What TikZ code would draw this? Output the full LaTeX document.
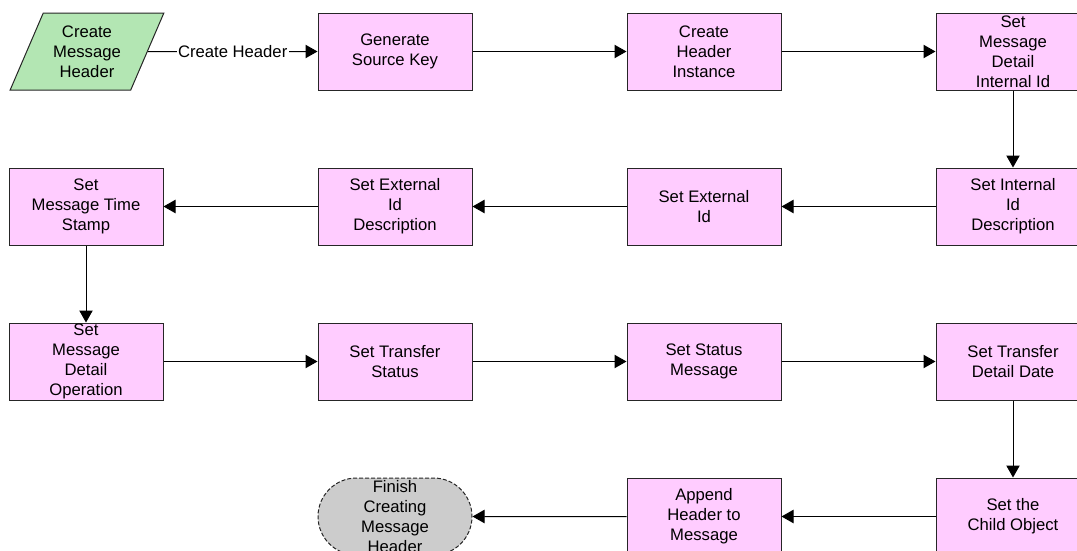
\documentclass[tikz,border=0pt]{standalone}
\usepackage{fontspec}
\setmainfont{Liberation Sans}
\usepackage{tikz}
\usetikzlibrary{positioning,shapes.geometric,shapes.misc,arrows.meta}
\definecolor{taskpink}{HTML}{FFCCFF}
\definecolor{startgreen}{HTML}{B3E6B3}
\definecolor{finishgray}{HTML}{CCCCCC}

\begin{document}
\begin{tikzpicture}[
        x=0.75pt, y=-0.75pt,
        font=\fontsize{12.5}{15}\selectfont,
        taskbox/.style={rectangle, draw=black!85, line width=0.75pt, fill=taskpink,
            minimum width=115.5pt, minimum height=57.75pt, inner sep=0pt, align=center},
        startbox/.style={trapezium, trapezium left angle=63.7, trapezium right angle=116.3,
            trapezium stretches=true, draw=black!85, line width=0.75pt, fill=startgreen,
            minimum width=115.5pt, minimum height=57.75pt, inner sep=0pt, align=center},
        finishbox/.style={rounded rectangle, draw=black!85, dash pattern=on 3pt off 1.5pt,
            line width=0.75pt, fill=finishgray, minimum width=115.5pt, minimum height=57.75pt,
            inner sep=0pt, align=center},
        flowline/.style={draw, line width=0.75pt, -{Triangle[length=9pt, width=10pt]}}
    ]
        \useasboundingbox (0,0) rectangle (1077,550);
        \clip (0,0) rectangle (1077,550);

        % Row 1
        \node[startbox] (create) at (87,51.5) {Create\\Message\\Header};
        \node[taskbox] (srckey) at (395,51.5) {Generate\\Source Key};
        \node[taskbox, right=115.5pt of srckey] (hdrinst) {Create\\Header\\Instance};
        \node[taskbox, right=115.5pt of hdrinst] (intid) {Set\\Message\\Detail\\Internal Id};

        % Row 2
        \node[taskbox, below=57.75pt of intid] (intdesc) {Set Internal\\Id\\Description};
        \node[taskbox, left=115.5pt of intdesc] (extid) {Set External\\Id};
        \node[taskbox, left=115.5pt of extid] (extdesc) {Set External\\Id\\Description};
        \node[taskbox, left=115.5pt of extdesc] (stamp) {Set\\Message Time\\Stamp};

        % Row 3
        \node[taskbox, below=57.75pt of stamp] (operation) {Set\\Message\\Detail\\Operation};
        \node[taskbox, right=115.5pt of operation] (trstatus) {Set Transfer\\Status};
        \node[taskbox, right=115.5pt of trstatus] (statmsg) {Set Status\\Message};
        \node[taskbox, right=115.5pt of statmsg] (detdate) {Set Transfer\\Detail Date};

        % Row 4
        \node[taskbox, below=57.75pt of detdate] (child) {Set the\\Child Object};
        \node[taskbox, left=115.5pt of child] (append) {Append\\Header to\\Message};
        \node[finishbox, left=115.5pt of append] (finish) {Finish\\Creating\\Message\\Header};

        % Connectors
        \draw[flowline] (create) -- node[fill=white, inner sep=1pt] {Create Header} (srckey);
        \draw[flowline] (srckey) -- (hdrinst);
        \draw[flowline] (hdrinst) -- (intid);
        \draw[flowline] (intid) -- (intdesc);
        \draw[flowline] (intdesc) -- (extid);
        \draw[flowline] (extid) -- (extdesc);
        \draw[flowline] (extdesc) -- (stamp);
        \draw[flowline] (stamp) -- (operation);
        \draw[flowline] (operation) -- (trstatus);
        \draw[flowline] (trstatus) -- (statmsg);
        \draw[flowline] (statmsg) -- (detdate);
        \draw[flowline] (detdate) -- (child);
        \draw[flowline] (child) -- (append);
        \draw[flowline] (append) -- (finish);
    \end{tikzpicture}
\end{document}
